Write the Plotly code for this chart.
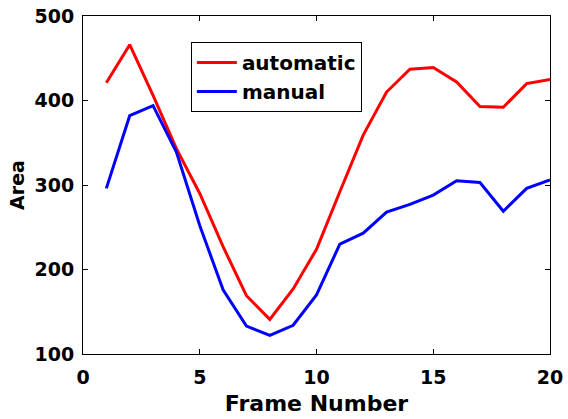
import plotly.graph_objects as go

frames = list(range(1, 21))
automatic = [421, 466, 406, 343, 290, 227, 169, 141, 177, 224,
             292, 359, 410, 437, 439, 422, 393, 392, 420, 425]
manual = [296, 382, 394, 339, 252, 176, 133, 122, 134, 170,
          230, 243, 268, 277, 288, 305, 303, 269, 296, 306]

FONT = "DejaVu Sans"

fig = go.Figure()
fig.add_trace(go.Scatter(x=frames, y=automatic, mode="lines", name="automatic",
                         line=dict(color="#ff0000", width=3)))
fig.add_trace(go.Scatter(x=frames, y=manual, mode="lines", name="manual",
                         line=dict(color="#0000ff", width=3)))

axis_common = dict(
    showgrid=False, zeroline=False, showline=True, linecolor="black",
    linewidth=1, mirror="ticks", ticks="inside", ticklen=5,
    tickcolor="black", tickwidth=1, automargin=False,
    tickfont=dict(family=FONT, size=19, color="black", weight="bold"),
)

fig.update_xaxes(range=[0, 20], tickvals=[0, 5, 10, 15, 20],
                 title=dict(text="Frame Number",
                            font=dict(family=FONT, size=22, color="black",
                                      weight="bold"),
                            standoff=8),
                 ticklabelstandoff=6, **axis_common)
fig.update_yaxes(range=[100, 500], tickvals=[100, 200, 300, 400, 500],
                 title=dict(text="Area",
                            font=dict(family=FONT, size=19, color="black",
                                      weight="bold"),
                            standoff=4),
                 ticklabelstandoff=4, **axis_common)

fig.update_layout(
    width=568, height=419,
    margin=dict(l=83, r=18, t=16, b=65),
    plot_bgcolor="white", paper_bgcolor="white",
    showlegend=True,
    legend=dict(x=0.231, y=0.923, xanchor="left", yanchor="top",
                bgcolor="white", bordercolor="black", borderwidth=1,
                font=dict(family=FONT, size=20, color="black", weight="bold"),
                tracegroupgap=0, itemwidth=40),
)

fig.write_html("out.html")
